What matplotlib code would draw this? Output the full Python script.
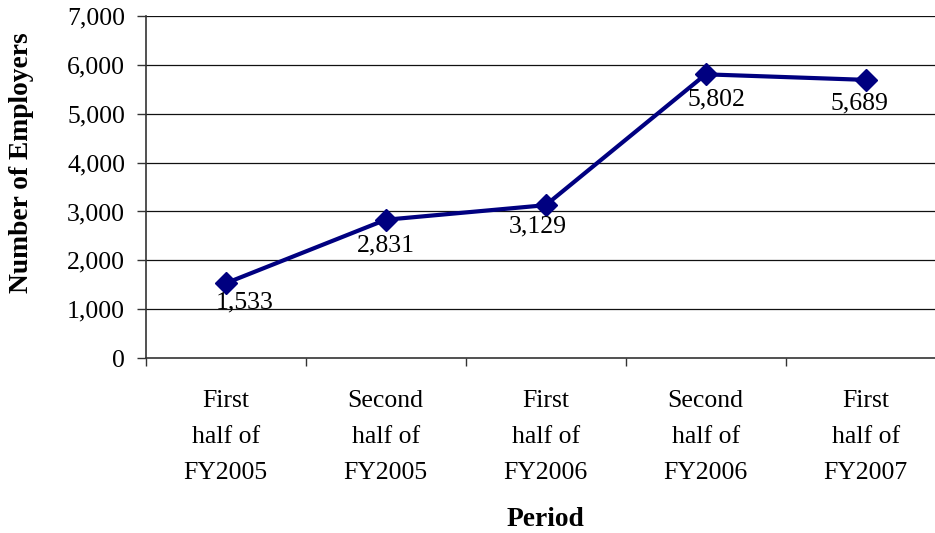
import matplotlib
matplotlib.use("Agg")
import matplotlib.pyplot as plt
from matplotlib.ticker import FuncFormatter, FixedLocator

periods = ["First\nhalf of\nFY2005", "Second\nhalf of\nFY2005", "First\nhalf of\nFY2006",
           "Second\nhalf of\nFY2006", "First\nhalf of\nFY2007"]
employers = [1533, 2831, 3129, 5802, 5689]
y_ticks = [0, 1000, 2000, 3000, 4000, 5000, 6000, 7000]

# label offsets in pixels (styling)
label_dx = [19, 0, -8, 11, -6]
label_dy = [-19, -26, -21, -25, -24]

plt.rcParams['font.family'] = ['Liberation Serif', 'DejaVu Serif']
FS = 18.5
FSB = 19.8

fig = plt.figure(figsize=(9.35, 5.33), dpi=100)
W, H = 935, 533
left, right, top, bottom = 145.7, 945.7, 15.7, 358.3
ax = fig.add_axes([left / W, 1 - bottom / H, (right - left) / W, (bottom - top) / H])

x = list(range(len(periods)))
ax.plot(x, employers, color='#000080', lw=3.0, marker='D', markersize=11,
        markerfacecolor='#000080', markeredgecolor='#000080', clip_on=False, zorder=5)

for xi, yi, dx, dy in zip(x, employers, label_dx, label_dy):
    ax.annotate(f"{yi:,}", (xi, yi), xytext=(dx * 72 / 100, dy * 72 / 100),
                textcoords='offset points', ha='center', va='center', fontsize=FS,
                zorder=6)

ax.set_xlim(-0.5, len(periods) - 0.5)
ax.set_ylim(0, 7000)
ax.set_yticks(y_ticks)
ax.yaxis.set_major_formatter(FuncFormatter(lambda v, p: f"{int(v):,}"))
ax.tick_params(axis='y', direction='out', length=6.5, width=1, color='#333333',
               labelsize=FS, pad=8.4)

ax.xaxis.set_major_locator(FixedLocator([i - 0.5 for i in range(len(periods) + 1)]))
ax.xaxis.set_major_formatter(FuncFormatter(lambda v, p: ""))
ax.xaxis.set_minor_locator(FixedLocator(x))
ax.set_xticklabels(periods, minor=True)
ax.tick_params(axis='x', which='major', direction='out', length=6, width=1, color='#333333')
ax.tick_params(axis='x', which='minor', length=0, labelsize=FS, pad=23)
for lab in ax.get_xticklabels(minor=True):
    lab.set_linespacing(1.82)

for yv in y_ticks[1:]:
    ax.axhline(yv, color='#111111', lw=0.9, zorder=1)

for s in ['top', 'right']:
    ax.spines[s].set_visible(False)
for s in ['left', 'bottom']:
    ax.spines[s].set_color('#333333')
    ax.spines[s].set_linewidth(1.2)

fig.text(545.7 / W, 1 - 520 / H, "Period", ha='center', va='center', fontsize=FSB,
         fontweight='bold')
fig.text(22 / W, 1 - 163 / H, "Number of Employers", ha='center', va='center',
         fontsize=FSB, fontweight='bold', rotation=90)

fig.savefig("out.png", dpi=100)
